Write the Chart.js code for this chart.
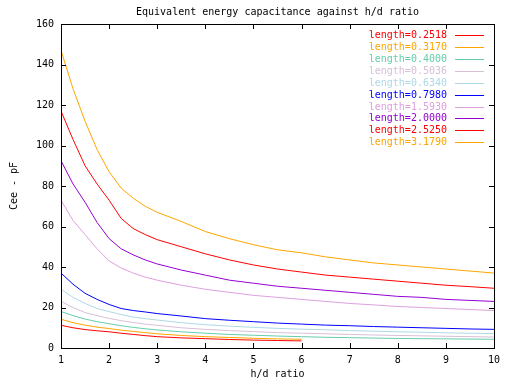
<!DOCTYPE html>
<html>
<head>
<meta charset="utf-8">
<script src="https://cdn.jsdelivr.net/npm/chart.js@4/dist/chart.umd.min.js"></script>
<style>
  html, body { margin: 0; padding: 0; background: #fff; }
  canvas { display: block; }
</style>
</head>
<body>
<canvas id="chart" width="512" height="384"></canvas>
<script>
// h/d ratio sample points
const hdRatio = [1, 1.25, 1.5, 1.75, 2, 2.25, 2.5, 2.75, 3, 3.5, 4, 4.5, 5, 5.5, 6, 6.5, 7, 7.5, 8, 8.5, 9, 9.5, 10];

const seriesLabels = ['length=0.2518', 'length=0.3170', 'length=0.4000', 'length=0.5036', 'length=0.6340',
  'length=0.7980', 'length=1.5930', 'length=2.0000', 'length=2.5250', 'length=3.1790'];
const seriesColors = ['#ff0000', '#ffa500', '#66cdaa', '#d8bfd8', '#add8e6',
  '#0000ff', '#dda0dd', '#9400d3', '#ff0000', '#ffa500'];

// Cee in pF, one array per length (first two stop at h/d = 6)
const cee02518 = [11.2, 10, 9.1, 8.5, 8, 7.3, 6.7, 6.1, 5.6, 5, 4.6, 4.2, 3.9, 3.7, 3.5];
const cee03170 = [14.2, 12.5, 11.3, 10.3, 9.6, 8.8, 8.2, 7.6, 7, 6.2, 5.6, 5.2, 4.8, 4.5, 4.3];
const cee04000 = [18, 16, 14.3, 13, 12, 11, 10.2, 9.5, 8.9, 8, 7.3, 6.7, 6.3, 5.9, 5.6, 5.3, 5.1, 4.9, 4.7, 4.6, 4.5, 4.4, 4.3];
const cee05036 = [23, 20, 17.5, 16, 14.6, 13.5, 12.6, 11.8, 11.2, 10, 9.2, 8.6, 8.1, 7.6, 7.3, 7, 6.7, 6.4, 6.2, 6, 5.8, 5.6, 5.4];
const cee06340 = [29, 25, 22, 19.5, 18, 16.5, 15.3, 14.5, 13.8, 12.5, 11.5, 10.8, 10.2, 9.7, 9.3, 9, 8.6, 8.3, 8, 7.8, 7.5, 7.3, 7.1];
const cee07980 = [37, 31.5, 27, 24, 21.5, 19.5, 18.5, 17.8, 17, 15.8, 14.5, 13.7, 13, 12.3, 11.8, 11.3, 11, 10.6, 10.3, 10, 9.7, 9.4, 9.2];
const cee15930 = [73, 63, 56, 49, 43, 39.5, 37, 35, 33.5, 31, 29, 27.5, 26, 25, 24, 23, 22, 21.3, 20.5, 20, 19.5, 19, 18.5];
const cee20000 = [92.5, 81, 72, 62, 54, 49, 46, 43.5, 41.5, 38.5, 36, 33.5, 32, 30.5, 29.5, 28.5, 27.5, 26.5, 25.5, 25, 24, 23.5, 23];
const cee25250 = [117, 103, 90, 81, 73, 64, 59, 56, 53.5, 50, 46.5, 43.5, 41, 39, 37.5, 36, 35, 34, 33, 32, 31, 30.3, 29.5];
const cee31790 = [147, 128, 112, 98, 87, 79, 74, 70, 67, 62.5, 57.5, 54, 51, 48.5, 47, 45, 43.5, 42, 41, 40, 39, 38, 37];

const allSeries = [cee02518, cee03170, cee04000, cee05036, cee06340, cee07980, cee15930, cee20000, cee25250, cee31790];

const xTicks = [1, 2, 3, 4, 5, 6, 7, 8, 9, 10];
const yTicks = [0, 20, 40, 60, 80, 100, 120, 140, 160];

Chart.defaults.font.family = '"DejaVu Sans Mono", monospace';
Chart.defaults.font.size = 10;
Chart.defaults.color = '#000';

// gnuplot-style frame, inward ticks and legend
const gnuplotFrame = {
  id: 'gnuplotFrame',
  afterDraw(chart) {
    const ctx = chart.ctx;
    const a = chart.chartArea;
    const xs = chart.scales.x, ys = chart.scales.y;
    const tl = 5;
    ctx.save();
    ctx.strokeStyle = '#000';
    ctx.lineWidth = 1;
    ctx.beginPath();
    xTicks.forEach(v => {
      const px = Math.round(xs.getPixelForValue(v)) + 0.5;
      ctx.moveTo(px, a.bottom); ctx.lineTo(px, a.bottom - tl);
      ctx.moveTo(px, a.top); ctx.lineTo(px, a.top + tl);
    });
    yTicks.forEach(v => {
      const py = Math.round(ys.getPixelForValue(v)) + 0.5;
      ctx.moveTo(a.left, py); ctx.lineTo(a.left + tl, py);
      ctx.moveTo(a.right, py); ctx.lineTo(a.right - tl, py);
    });
    ctx.stroke();
    ctx.strokeRect(Math.round(a.left) + 0.5, Math.round(a.top) + 0.5,
      Math.round(a.right - a.left), Math.round(a.bottom - a.top));

    // title
    ctx.fillStyle = '#000';
    ctx.font = '10px "DejaVu Sans Mono", monospace';
    ctx.textAlign = 'center';
    ctx.textBaseline = 'middle';
    ctx.fillText('Equivalent energy capacitance against h/d ratio', (a.left + a.right) / 2, 12);

    // legend: text on the left, sample line on the right
    ctx.textAlign = 'right';
    chart.data.datasets.forEach((ds, i) => {
      const y = Math.round(35 + 11.92 * i);
      ctx.fillStyle = ds.borderColor;
      ctx.fillText(ds.label, 447, y);
      ctx.fillRect(455, y, 29, 1);
    });
    ctx.restore();
  }
};

new Chart(document.getElementById('chart'), {
  type: 'line',
  data: {
    datasets: allSeries.map((vals, i) => ({
      label: seriesLabels[i],
      data: vals.map((v, j) => ({ x: hdRatio[j], y: v })),
      borderColor: seriesColors[i],
      backgroundColor: seriesColors[i],
      borderWidth: 1,
      pointRadius: 0,
      tension: 0,
      fill: false
    }))
  },
  options: {
    responsive: false,
    animation: false,
    layout: { padding: { top: 24, right: 18, left: 0, bottom: 0 } },
    plugins: {
      legend: { display: false },
      tooltip: { enabled: false }
    },
    scales: {
      x: {
        type: 'linear',
        min: 1,
        max: 10,
        afterBuildTicks: s => { s.ticks = xTicks.map(v => ({ value: v })); },
        afterFit: s => { s.height = 36; },
        grid: { display: false, drawTicks: false },
        border: { display: false },
        ticks: { padding: 6, maxRotation: 0 },
        title: { display: true, text: 'h/d ratio', padding: { top: 0, bottom: 4 } }
      },
      y: {
        min: 0,
        max: 160,
        afterBuildTicks: s => { s.ticks = yTicks.map(v => ({ value: v })); },
        afterFit: s => { s.width = 61; },
        grid: { display: false, drawTicks: false },
        border: { display: false },
        ticks: { padding: 7 },
        title: { display: true, text: 'Cee - pF', padding: { top: 8, bottom: 0 } }
      }
    }
  },
  plugins: [gnuplotFrame]
});
</script>
</body>
</html>
